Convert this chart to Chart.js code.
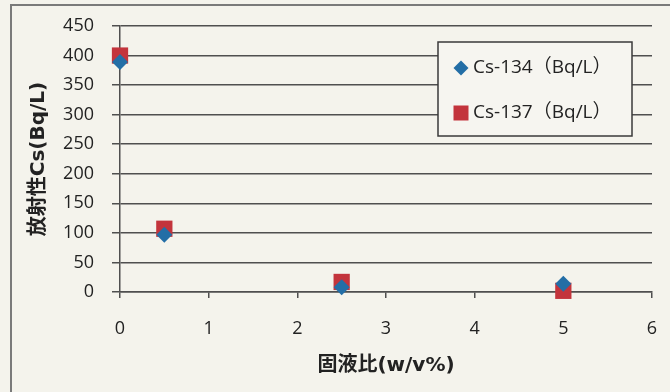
<!DOCTYPE html>
<html>
<head>
<meta charset="utf-8">
<script src="https://cdn.jsdelivr.net/npm/chart.js@4.4.1/dist/chart.umd.min.js"></script>
<style>
  html, body { margin: 0; padding: 0; background: #f4f3ec; }
  #wrap { width: 670px; height: 392px; position: relative; }
</style>
</head>
<body>
<div id="wrap"><canvas id="c" width="670" height="392"></canvas></div>
<script>
// Solid/liquid ratio (w/v%) and measured activity (Bq/L)
const ratios = [0, 0.5, 2.5, 5];
const cs134 = [389, 97, 8, 14];
const cs137 = [400, 107, 17, 2];
const seriesNames = ['Cs-134（Bq/L）', 'Cs-137（Bq/L）'];
const yTitle = '放射性Cs(Bq/L)';
const xTitle = '固液比(w/v%)';

const GRID = '#4f4f4f';
const TICK_FONT = { family: "'Open Sans', 'Liberation Sans', sans-serif", size: 18 };
const TITLE_FONT = { family: "'DejaVu Sans', 'Noto Sans CJK JP', sans-serif", size: 20, weight: 'bold' };

// Page background and the outer frame line
const backdrop = {
  id: 'backdrop',
  beforeDraw(chart) {
    const ctx = chart.ctx;
    ctx.save();
    ctx.fillStyle = '#f4f3ec';
    ctx.fillRect(0, 0, chart.width, chart.height);
    ctx.strokeStyle = '#7a7a7a';
    ctx.lineWidth = 2;
    ctx.strokeRect(11, 5, chart.width + 20, chart.height + 20);
    ctx.restore();
  }
};

// Boxed legend inside the plot, upper right
const boxLegend = {
  id: 'boxLegend',
  afterDraw(chart) {
    const ctx = chart.ctx;
    const x0 = 438, y0 = 42, w = 194, h = 94;
    ctx.save();
    ctx.fillStyle = '#f6f5f0';
    ctx.fillRect(x0, y0, w, h);
    ctx.strokeStyle = '#3a3a3a';
    ctx.lineWidth = 1.5;
    ctx.strokeRect(x0, y0, w, h);
    ctx.font = "19px 'Open Sans', 'Noto Sans CJK JP', sans-serif";
    ctx.textBaseline = 'middle';
    chart.data.datasets.forEach((ds, i) => {
      const cy = y0 + 26 + i * 45;
      const cx = 461;
      ctx.fillStyle = ds.backgroundColor;
      if (ds.pointStyle === 'rectRot') {
        const r = 7.5;
        ctx.beginPath();
        ctx.moveTo(cx - r, cy);
        ctx.lineTo(cx, cy - r);
        ctx.lineTo(cx + r, cy);
        ctx.lineTo(cx, cy + r);
        ctx.closePath();
        ctx.fill();
      } else {
        ctx.fillRect(cx - 7.5, cy - 7.5, 15, 15);
      }
      ctx.fillStyle = '#222';
      ctx.fillText(ds.label, 473, cy);
    });
    ctx.restore();
  }
};

const toPoints = (ys) => ratios.map((x, i) => ({ x, y: ys[i] }));

new Chart(document.getElementById('c'), {
  type: 'scatter',
  data: {
    datasets: [
      {
        label: seriesNames[0],
        data: toPoints(cs134),
        pointStyle: 'rectRot',
        pointRadius: 8,
        pointHoverRadius: 8,
        backgroundColor: '#236ea6',
        borderColor: '#236ea6',
        borderWidth: 0,
        clip: false
      },
      {
        label: seriesNames[1],
        data: toPoints(cs137),
        pointStyle: 'rect',
        pointRadius: 11.5,
        pointHoverRadius: 11.5,
        backgroundColor: '#c3343c',
        borderColor: '#c3343c',
        borderWidth: 0,
        clip: false
      }
    ]
  },
  options: {
    responsive: false,
    animation: false,
    devicePixelRatio: 1,
    layout: { padding: { top: 26, right: 18, left: 0, bottom: 0 } },
    plugins: {
      legend: { display: false },
      tooltip: { enabled: false }
    },
    scales: {
      x: {
        type: 'linear',
        min: 0,
        max: 6,
        afterFit(s) { s.height = 100; s.paddingLeft = 0; s.paddingRight = 0; },
        ticks: { stepSize: 1, color: '#222', font: TICK_FONT, padding: 20 },
        grid: { drawOnChartArea: false, drawTicks: true, tickLength: 6, color: GRID, lineWidth: 1.5 },
        border: { display: true, color: GRID, width: 1.5 },
        title: { display: true, text: xTitle, color: '#222', font: TITLE_FONT, padding: { top: 0, bottom: 14 } }
      },
      y: {
        type: 'linear',
        min: 0,
        max: 450,
        afterFit(s) { s.width = 120; s.paddingTop = 0; s.paddingBottom = 0; },
        ticks: { stepSize: 50, color: '#222', font: TICK_FONT, padding: 18 },
        grid: { drawTicks: true, tickLength: 8, color: GRID, lineWidth: 1.5 },
        border: { display: true, color: GRID, width: 1.5 },
        title: { display: true, text: yTitle, color: '#222', font: TITLE_FONT, padding: { top: 27, bottom: 0 } }
      }
    }
  },
  plugins: [backdrop, boxLegend]
});
</script>
</body>
</html>
